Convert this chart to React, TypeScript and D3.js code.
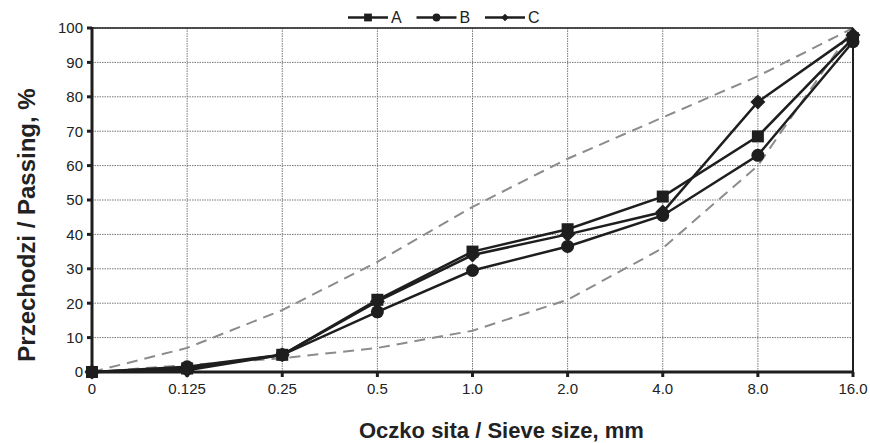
import React from "react";
import * as d3 from "d3";

const categories = ["0", "0.125", "0.25", "0.5", "1.0", "2.0", "4.0", "8.0", "16.0"];
const seriesA = [0, 1, 5, 21, 35, 41.5, 51, 68.5, 97];
const seriesB = [0, 1.5, 5, 17.5, 29.5, 36.5, 45.5, 63, 96];
const seriesC = [0, 0.5, 5, 20.5, 34, 40, 46.5, 78.5, 98];
const upperLimit = [0, 7, 18, 32, 48, 62, 74, 86, 100];
const lowerLimit = [0, 2, 4, 7, 12, 21, 36, 60, 100];
const yTicks = [0, 10, 20, 30, 40, 50, 60, 70, 80, 90, 100];
const seriesNames = ["A", "B", "C"];

const W = 870, H = 443;
const L = 92, R = 853, T = 28, B = 372;
const FONT = "Liberation Sans, Arial, sans-serif";
const INK = "#1e1e1e";

function Marker({ kind, x, y, s = 1 }: { kind: string; x: number; y: number; s?: number }) {
  if (kind === "A") return <rect x={x - 6 * s} y={y - 6 * s} width={12 * s} height={12 * s} fill={INK} />;
  if (kind === "B") return <circle cx={x} cy={y} r={6.5 * s} fill={INK} />;
  const r = 7.5 * s;
  return <path d={`M${x},${y - r}L${x + r},${y}L${x},${y + r}L${x - r},${y}Z`} fill={INK} />;
}

export default function App() {
  const x = d3.scalePoint<string>().domain(categories).range([L, R]);
  const y = d3.scaleLinear().domain([0, 100]).range([B, T]);
  const line = d3.line<number>().x((_, i) => x(categories[i])!).y((d) => y(d));
  const series = [seriesA, seriesB, seriesC];
  const legendMarkerScale = [0.65, 0.6, 0.5];

  return (
    <svg width={W} height={H} style={{ position: "absolute", left: 0, top: 0 }} fontFamily={FONT}>
      <rect width={W} height={H} fill="#fff" />
      {yTicks.map((t) => (
        <line key={"gy" + t} x1={L} x2={R} y1={y(t)} y2={y(t)} stroke="#777" strokeWidth={1} strokeDasharray="1.5,1" />
      ))}
      {categories.map((c) => (
        <line key={"gx" + c} x1={x(c)} x2={x(c)} y1={T} y2={B} stroke="#777" strokeWidth={1} strokeDasharray="1.5,1" />
      ))}
      {[upperLimit, lowerLimit].map((s, i) => (
        <path key={"lim" + i} d={line(s)!} fill="none" stroke="#8c8c8c" strokeWidth={2} strokeDasharray="11,7" />
      ))}
      <line x1={L} x2={R} y1={T} y2={T} stroke={INK} strokeWidth={1.5} />
      <line x1={R} x2={R} y1={T} y2={B} stroke={INK} strokeWidth={2} />
      <line x1={L} x2={R + 1} y1={B} y2={B} stroke={INK} strokeWidth={3} />
      <line x1={L} x2={L} y1={T - 1} y2={B + 1.5} stroke={INK} strokeWidth={3} />
      {yTicks.map((t) => (
        <g key={"ty" + t}>
          <line x1={L - 5} x2={L} y1={y(t)} y2={y(t)} stroke={INK} strokeWidth={3} />
          <text x={L - 9} y={y(t)} dy="0.36em" textAnchor="end" fontSize={15} fill="#222">{t}</text>
        </g>
      ))}
      {categories.map((c) => (
        <g key={"tx" + c}>
          <line x1={x(c)} x2={x(c)} y1={B} y2={B + 5} stroke={INK} strokeWidth={3} />
          <text x={x(c)} y={B + 22} textAnchor="middle" fontSize={15} fill="#222">{c}</text>
        </g>
      ))}
      {series.map((s, i) => (
        <g key={"s" + i}>
          <path d={line(s)!} fill="none" stroke={INK} strokeWidth={2.5} />
          {s.map((v, j) => (
            <Marker key={j} kind={seriesNames[i]} x={x(categories[j])!} y={y(v)} />
          ))}
        </g>
      ))}
      {seriesNames.map((n, i) => {
        const lx = 348 + i * 68.5;
        return (
          <g key={"lg" + n}>
            <line x1={lx} x2={lx + 40} y1={17.5} y2={17.5} stroke={INK} strokeWidth={2.5} />
            <Marker kind={n} x={lx + 20} y={17.5} s={legendMarkerScale[i]} />
            <text x={lx + 43} y={17.5} dy="0.36em" fontSize={16} fill="#222">{n}</text>
          </g>
        );
      })}
      <text x={359} y={438} textAnchor="start" fontSize={22} fontWeight="bold" fill="#222">
        Oczko sita / Sieve size, mm
      </text>
      <text transform={`translate(35,225) rotate(-90)`} textAnchor="middle" fontSize={24} fontWeight="bold" fill="#222">
        Przechodzi / Passing, %
      </text>
    </svg>
  );
}
